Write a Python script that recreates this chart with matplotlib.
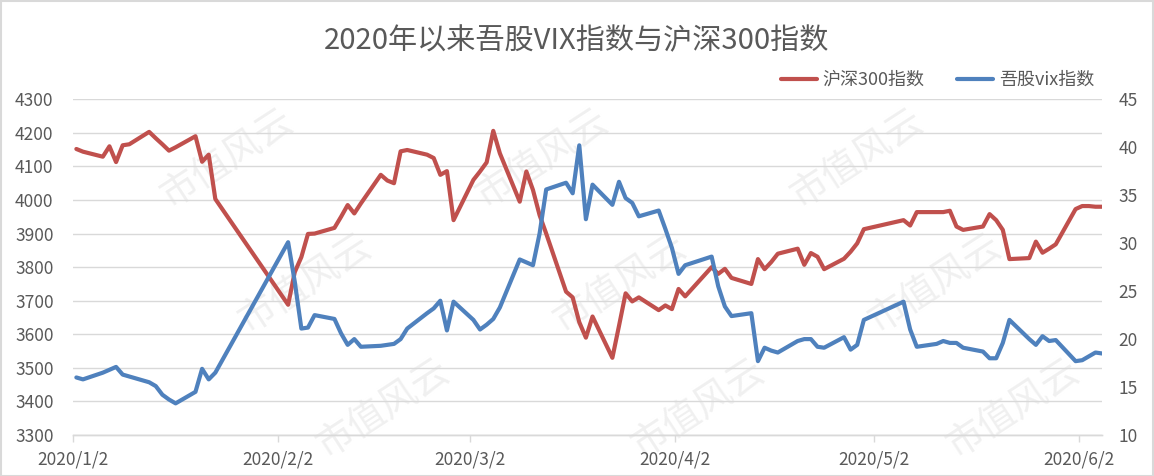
import pandas as pd
import matplotlib
matplotlib.use("Agg")
import matplotlib.pyplot as plt
from matplotlib.patches import Rectangle

plt.rcParams['font.family'] = ['Noto Sans CJK SC', 'DejaVu Sans']

# 交易日（2020/1/2 - 2020/6/5）
trade_days = [
    "2020-01-02", "2020-01-03", "2020-01-06", "2020-01-07", "2020-01-08", "2020-01-09", "2020-01-10",
    "2020-01-13", "2020-01-14", "2020-01-15", "2020-01-16", "2020-01-17", "2020-01-20", "2020-01-21",
    "2020-01-22", "2020-01-23",
    "2020-02-03", "2020-02-04", "2020-02-05", "2020-02-06", "2020-02-07", "2020-02-10", "2020-02-11",
    "2020-02-12", "2020-02-13", "2020-02-14", "2020-02-17", "2020-02-18", "2020-02-19", "2020-02-20",
    "2020-02-21", "2020-02-24", "2020-02-25", "2020-02-26", "2020-02-27", "2020-02-28",
    "2020-03-02", "2020-03-03", "2020-03-04", "2020-03-05", "2020-03-06", "2020-03-09", "2020-03-10",
    "2020-03-11", "2020-03-12", "2020-03-13", "2020-03-16", "2020-03-17", "2020-03-18", "2020-03-19",
    "2020-03-20", "2020-03-23", "2020-03-24", "2020-03-25", "2020-03-26", "2020-03-27", "2020-03-30",
    "2020-03-31",
    "2020-04-01", "2020-04-02", "2020-04-03", "2020-04-07", "2020-04-08", "2020-04-09", "2020-04-10",
    "2020-04-13", "2020-04-14", "2020-04-15", "2020-04-16", "2020-04-17", "2020-04-20", "2020-04-21",
    "2020-04-22", "2020-04-23", "2020-04-24", "2020-04-27", "2020-04-28", "2020-04-29", "2020-04-30",
    "2020-05-06", "2020-05-07", "2020-05-08", "2020-05-11", "2020-05-12", "2020-05-13", "2020-05-14",
    "2020-05-15", "2020-05-18", "2020-05-19", "2020-05-20", "2020-05-21", "2020-05-22", "2020-05-25",
    "2020-05-26", "2020-05-27", "2020-05-28", "2020-05-29",
    "2020-06-01", "2020-06-02", "2020-06-03", "2020-06-04", "2020-06-05",
]

# 沪深300指数
hs300 = [
    4152, 4144, 4129, 4160, 4113, 4163, 4166,
    4203, 4184, 4166, 4147, 4157, 4190, 4114,
    4135, 4003,
    3688, 3785, 3830, 3899, 3900, 3917, 3950,
    3985, 3960, 3990, 4075, 4058, 4050, 4145,
    4149, 4135, 4125, 4075, 4086, 3940,
    4060, 4085, 4112, 4206, 4139, 3995, 4085,
    4030, 3955, 3900, 3727, 3710, 3636, 3590,
    3653, 3530, 3625, 3722, 3698, 3710, 3672,
    3686,
    3675, 3735, 3713, 3800, 3780, 3795, 3768,
    3750, 3824, 3794, 3815, 3840, 3855, 3807,
    3842, 3831, 3794, 3825, 3846, 3871, 3913,
    3940, 3924, 3964, 3964, 3964, 3968, 3921,
    3911, 3921, 3958, 3940, 3911, 3824, 3827,
    3876, 3843, 3855, 3868,
    3973, 3982, 3982, 3980, 3980,
]

# 吾股vix指数
vix = [
    16.0, 15.8, 16.5, 16.8, 17.1, 16.3, 16.1,
    15.5, 15.1, 14.2, 13.7, 13.3, 14.5, 16.9,
    15.8, 16.5,
    30.1, 26.0, 21.1, 21.2, 22.5, 22.1, 20.6,
    19.4, 20.0, 19.2, 19.3, 19.4, 19.5, 20.0,
    21.1, 22.7, 23.2, 24.0, 20.9, 23.9,
    22.0, 21.0, 21.5, 22.1, 23.3, 28.3, 28.0,
    27.7, 31.0, 35.6, 36.3, 35.2, 40.2, 32.5,
    36.1, 34.0, 36.4, 34.7, 34.2, 32.8, 33.4,
    31.5,
    29.5, 26.8, 27.7, 28.6, 25.5, 23.4, 22.4,
    22.7, 17.7, 19.1, 18.8, 18.6, 19.8, 20.0,
    20.0, 19.2, 19.1, 20.2, 18.9, 19.4, 22.0,
    23.9, 21.0, 19.2, 19.5, 19.8, 19.6, 19.6,
    19.1, 18.7, 18.0, 18.0, 19.6, 22.0, 20.0,
    19.4, 20.3, 19.8, 19.9,
    17.7, 17.8, 18.2, 18.6, 18.5,
]

tick_dates = ["2020-01-02", "2020-02-02", "2020-03-02", "2020-04-02", "2020-05-02", "2020-06-02"]
tick_labels = ["2020/1/2", "2020/2/2", "2020/3/2", "2020/4/2", "2020/5/2", "2020/6/2"]

RED = "#C0504D"
BLUE = "#4F81BD"
GREY = "#595959"
GRID = "#D9D9D9"
W, H = 1154, 476

# 数据点放在当天中间（Excel 日期坐标轴）
x = pd.to_datetime(trade_days) + pd.Timedelta(hours=12)

fig = plt.figure(figsize=(W / 100, H / 100), dpi=100)
ax = fig.add_axes([0.0633, 0.0861, 0.8917, 0.7053])
ax2 = ax.twinx()
ax.patch.set_visible(False)
ax2.patch.set_visible(False)

# 水印 "市值风云"（只保留完整落在图内的）
marks = []
for c in range(-1, 4):
    for r in range(-1, 3):
        px = 165 + 315 * c + 78 * r
        py = 200 + 125 * r
        marks.append(fig.text(px / W, 1 - py / H, "市值风云", fontsize=27, color="#f0f0f0",
                              rotation=33, rotation_mode='anchor', ha='left', va='center',
                              zorder=-5))

ax.plot(x, hs300, color=RED, lw=3.0, solid_capstyle='round', solid_joinstyle='round',
        label="沪深300指数")
ax2.plot(x, vix, color=BLUE, lw=3.0, solid_capstyle='round', solid_joinstyle='round',
         label="吾股vix指数")

ax.set_xlim(pd.Timestamp("2020-01-02"), pd.Timestamp("2020-06-05 12:00"))
ax.set_ylim(3300, 4300)
ax.set_yticks(range(3300, 4301, 100))
ax2.set_ylim(10, 45)
ax2.set_yticks(range(10, 46, 5))

ax.set_xticks(pd.to_datetime(tick_dates))
ax.set_xticklabels(tick_labels)

ax.grid(axis='y', color=GRID, lw=1.0)
ax.set_axisbelow(True)

for a in (ax, ax2):
    for s in ("top", "left", "right"):
        a.spines[s].set_visible(False)
    a.spines["bottom"].set_color(GRID)
    a.spines["bottom"].set_linewidth(1.0)

ax.tick_params(axis='x', colors=GRID, length=5, width=1, labelcolor=GREY, labelsize=12.5, pad=6)
ax.tick_params(axis='y', length=0, labelcolor=GREY, labelsize=12.5, pad=14)
ax2.tick_params(axis='y', length=0, labelcolor=GREY, labelsize=12.5, pad=12)

fig.text(0.5, 0.913, "2020年以来吾股VIX指数与沪深300指数", ha='center', va='center',
         fontsize=21, color=GREY)

h1, l1 = ax.get_legend_handles_labels()
h2, l2 = ax2.get_legend_handles_labels()
fig.legend(h1 + h2, l1 + l2, loc='center right', bbox_to_anchor=(0.962, 0.832), ncol=2,
           frameon=False, fontsize=13, labelcolor=GREY, handlelength=2.0,
           handletextpad=0.3, columnspacing=1.8)

fig.patches.append(Rectangle((0.001, 0.001), 0.998, 0.997, transform=fig.transFigure,
                             fill=False, edgecolor=GRID, lw=1.5))

fig.canvas.draw()
for t in marks:
    bb = t.get_window_extent()
    if bb.x0 < 2 or bb.y0 < 2 or bb.x1 > W - 2 or bb.y1 > H - 2:
        t.remove()

fig.savefig("out.png", dpi=100)
